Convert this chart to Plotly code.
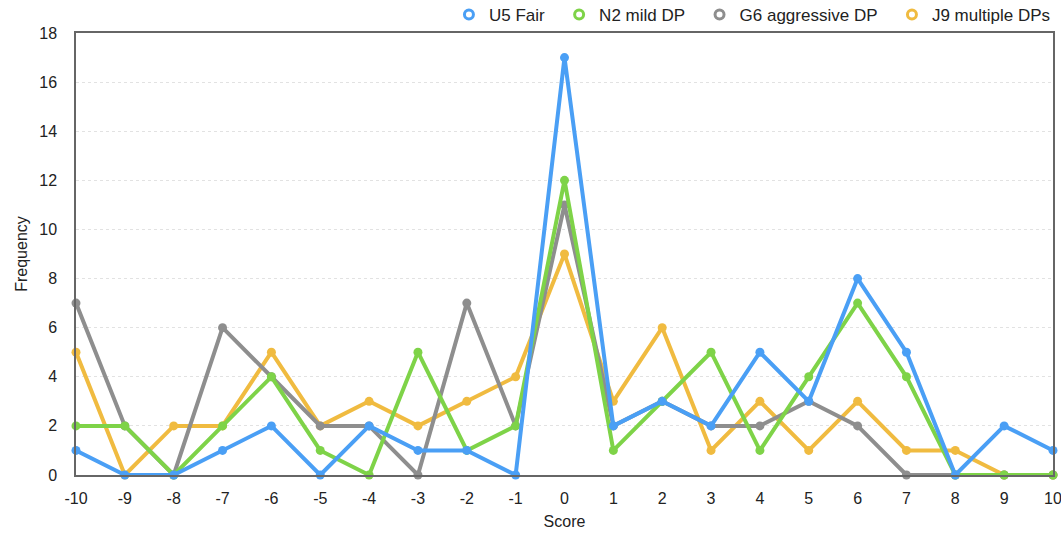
import plotly.graph_objects as go

scores = list(range(-10, 11))
u5_fair = [1, 0, 0, 1, 2, 0, 2, 1, 1, 0, 17, 2, 3, 2, 5, 3, 8, 5, 0, 2, 1]
n2_mild = [2, 2, 0, 2, 4, 1, 0, 5, 1, 2, 12, 1, 3, 5, 1, 4, 7, 4, 0, 0, 0]
g6_aggr = [7, 2, 0, 6, 4, 2, 2, 0, 7, 2, 11, 2, 3, 2, 2, 3, 2, 0, 0, 0, 0]
j9_mult = [5, 0, 2, 2, 5, 2, 3, 2, 3, 4, 9, 3, 6, 1, 3, 1, 3, 1, 1, 0, 0]

series = [
    ("U5 Fair", u5_fair, "#4A9FF5"),
    ("N2 mild DP", n2_mild, "#7ED348"),
    ("G6 aggressive DP", g6_aggr, "#8E8E8E"),
    ("J9 multiple DPs", j9_mult, "#F0BB40"),
]

fig = go.Figure()
for name, vals, col in reversed(series):
    fig.add_trace(go.Scatter(
        x=scores, y=vals, mode="lines+markers", name=name, showlegend=False,
        line=dict(color=col, width=4), marker=dict(color=col, size=9),
        cliponaxis=False,
    ))
n = len(series)
for i, (name, vals, col) in enumerate(series):
    pad = "\u00a0\u00a0" if i < n - 1 else ""
    fig.add_trace(go.Scatter(
        x=[None], y=[None], mode="markers", name=name + pad, legendrank=i + 1,
        marker=dict(symbol="circle-open", color=col, size=9, line=dict(width=3)),
    ))

fig.update_layout(
    width=1061, height=534,
    margin=dict(l=76, r=8, t=33, b=59, autoexpand=False),
    paper_bgcolor="white", plot_bgcolor="white",
    font=dict(family="Liberation Sans, Arial, sans-serif", size=16, color="#222"),
    legend=dict(orientation="h", x=1.003, xanchor="right", y=1.0, yanchor="bottom",
                font=dict(size=17), traceorder="normal", itemwidth=30,
                tracegroupgap=0, bgcolor="rgba(0,0,0,0)"),
    xaxis=dict(range=[-10, 10], tickmode="array", tickvals=scores,
               ticktext=[str(s) for s in scores], showgrid=False,
               showline=True, linecolor="#666", linewidth=1.5, mirror=True,
               zeroline=False, ticks="", ticklabelstandoff=8,
               ticklabeloverflow="allow",
               title=dict(text="Score", font=dict(size=16), standoff=10)),
    yaxis=dict(range=[0, 18], dtick=2, showgrid=True, gridcolor="#E2E2E2",
               griddash="dot", gridwidth=1,
               showline=True, linecolor="#666", linewidth=1.5, mirror=True,
               zeroline=False, ticks="", ticklabelstandoff=14,
               title=dict(text="Frequency", font=dict(size=16), standoff=8)),
)

fig.write_html("out.html")
